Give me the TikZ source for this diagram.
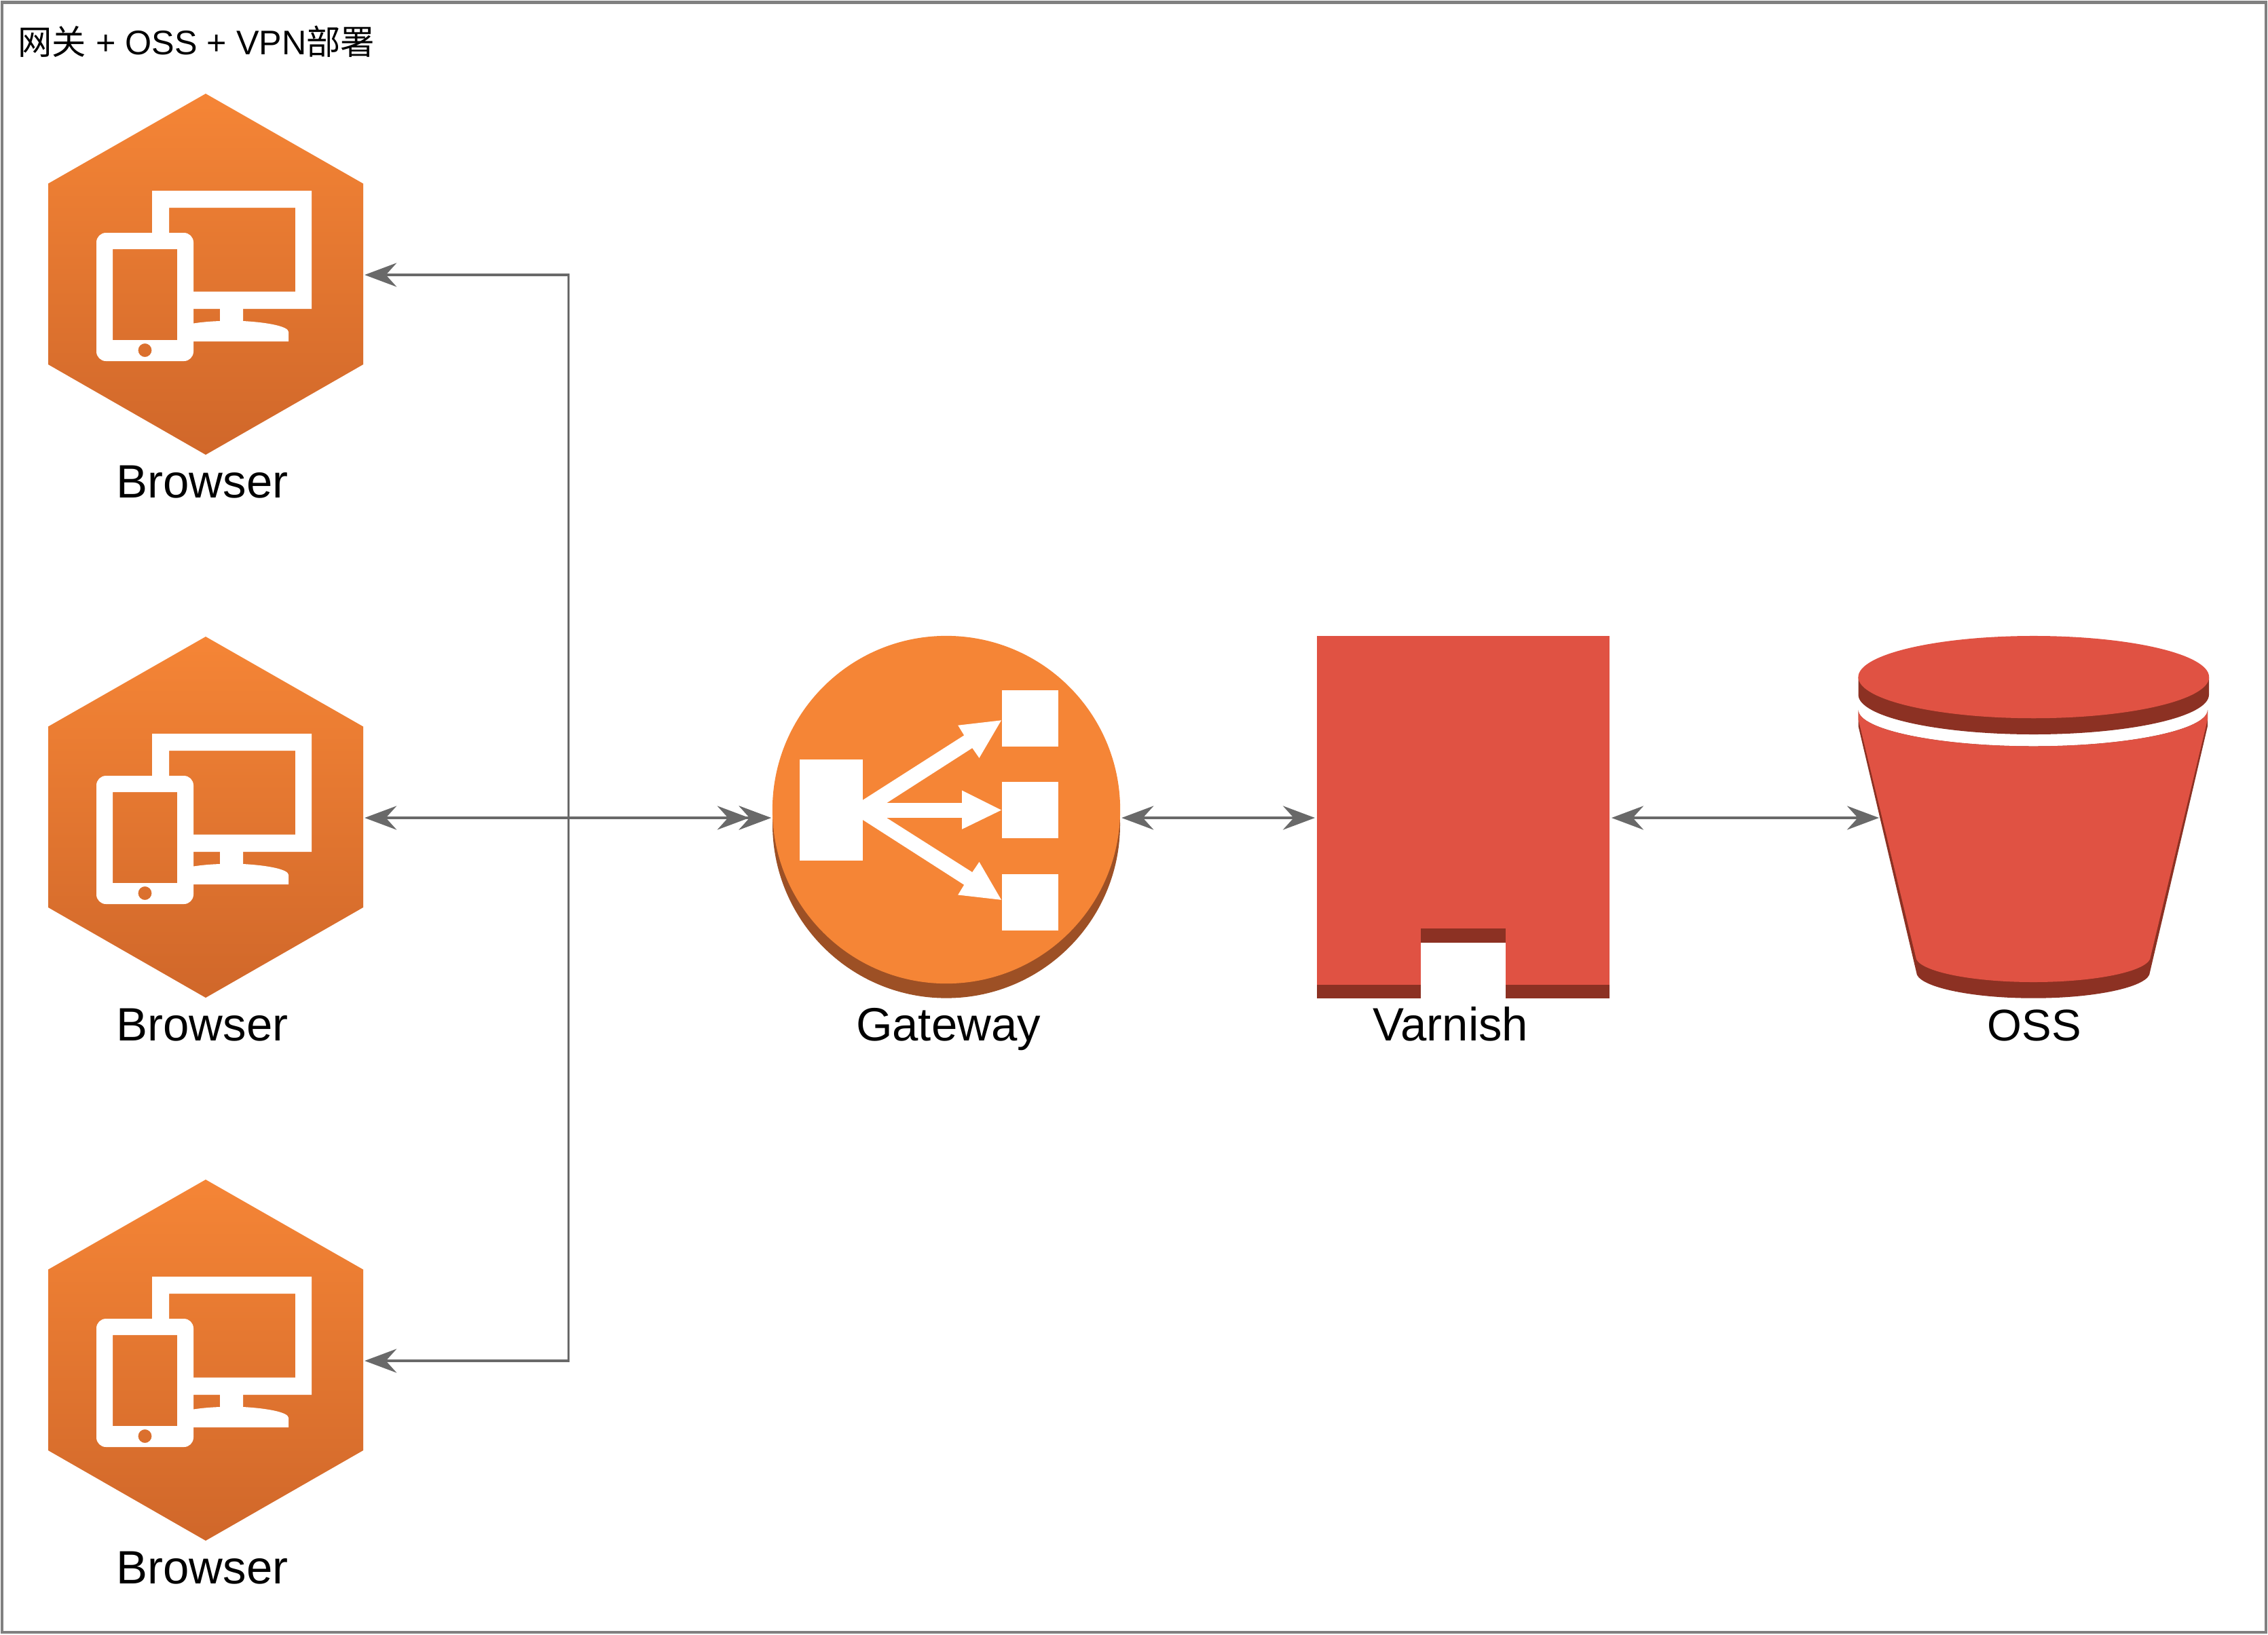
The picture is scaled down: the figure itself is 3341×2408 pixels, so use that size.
\documentclass[tikz,border=0pt]{standalone}
\usepackage{fontspec}
\setmainfont{Liberation Sans}
\newfontfamily\cjk{Noto Sans CJK SC}
\usetikzlibrary{arrows.meta, shapes.geometric}
\definecolor{hexTop}{HTML}{F58536}
\definecolor{hexBottom}{HTML}{D0672A}
\definecolor{awsOrange}{HTML}{F58536}
\definecolor{awsBrown}{HTML}{9D5025}
\definecolor{awsRed}{HTML}{E05243}
\definecolor{awsDark}{HTML}{8C3123}
\definecolor{wire}{HTML}{696969}
\definecolor{framegray}{HTML}{808080}
\tikzset{
    anchorbox/.style={inner sep=0pt, outer sep=0pt, draw=none},
    caption/.style={inner sep=0pt, font=\fontsize{19.6}{22}\selectfont, anchor=base},
    wirelink/.style={draw=wire, line width=0.95pt, {Stealth[length=13.4pt, width=10pt, inset=4.5pt]}-{Stealth[length=13.4pt, width=10pt, inset=4.5pt]}}
}
\begin{document}
\begin{tikzpicture}[x=0.01cm, y=-0.01cm]
        \useasboundingbox (0, 0) rectangle (3341, 2408);
        \node[anchorbox, draw=framegray, line width=1.25pt, minimum width=33.33cm, minimum height=24cm] (frame) at (1670.5, 1204) {};
        \node[inner sep=0pt, anchor=base west, font=\fontsize{14.3}{17}\selectfont] (title) at (26, 80) {{\cjk 网关} + OSS + VPN{\cjk 部署}};

        % browsers
        \foreach \n/\dy in {1/0, 2/800, 3/1600} {
            \begin{scope}[yshift=-\dy*0.01cm]
                \shade[top color=hexTop, bottom color=hexBottom] (303, 138) -- (535, 270.5) -- (535, 537) -- (303, 670) -- (71, 537) -- (71, 270.5) -- cycle;
                \fill[white] (224, 343) -- (224, 281) -- (459, 281) -- (459, 455) -- (285, 455) -- (285, 429.5) -- (435, 429.5) -- (435, 306) -- (249, 306) -- (249, 343) -- cycle;
                \fill[white] (285, 476.5) .. controls (298, 474.5) and (310, 473.5) .. (324, 473) -- (324, 455) -- (358, 455) -- (358, 473) .. controls (395, 475) and (425, 481) .. (425, 489) -- (425, 503) -- (285, 503) -- cycle;
                \fill[white, even odd rule] [rounded corners=4pt] (142, 343) rectangle (285, 532) [sharp corners] (166, 367) rectangle (261, 501) (213.5, 516) circle[radius=10];
                \node[anchorbox, minimum width=4.68cm, minimum height=2.66cm] (b\n) at (303, 405) {};
                \node[caption] (blabel\n) at (298, 733) {Browser};
            \end{scope}
        }

        % gateway
        \fill[awsBrown] (1394, 1214.6) circle[radius=256];
        \node[circle, anchorbox, fill=awsOrange, minimum size=5.12cm, outer sep=0.6pt] (gw) at (1394, 1193) {};
        \fill[white] (1178, 1119) rectangle (1271, 1268);
        \fill[white] (1476, 1017) rectangle (1559, 1100);
        \fill[white] (1476, 1152) rectangle (1559, 1235);
        \fill[white] (1476, 1288) rectangle (1559, 1371);
        \fill[white] (1270.9, 1178.8) -- (1420.2, 1083.4) -- (1411.2, 1068.7) -- (1475, 1061.3) -- (1442.5, 1116.8) -- (1432.3, 1102.1) -- (1306, 1183.2) -- (1417, 1183.2) -- (1417, 1164.5) -- (1475, 1193.6) -- (1417, 1221.8) -- (1417, 1204.9) -- (1306, 1204.9) -- (1432.3, 1285.1) -- (1442.5, 1269.9) -- (1475, 1325.8) -- (1411.2, 1318.5) -- (1420.2, 1303.7) -- (1270.9, 1207.9) -- cycle;
        \node[caption] (gwlabel) at (1397, 1533) {Gateway};

        % varnish
        \fill[awsRed] (1940, 937) rectangle (2371, 1471);
        \fill[awsDark] (1940, 1451) rectangle (2371, 1471);
        \fill[awsDark] (2093, 1368) rectangle (2218, 1389);
        \fill[white] (2093, 1389) rectangle (2218, 1472);
        \node[anchorbox, minimum width=4.31cm, minimum height=5.34cm, outer sep=0.8pt] (varnish) at (2155.5, 1204) {};
        \node[caption] (vlabel) at (2137, 1533) {Varnish};

        % oss
        \fill[awsDark] (2737.5, 1046) -- (2737.5, 1070) -- (2823, 1432.5) .. controls (2823, 1453) and (2900, 1470.7) .. (2995.5, 1470.7) .. controls (3091, 1470.7) and (3167, 1453) .. (3167, 1432.5) -- (3252, 1070) -- (3252, 1046) .. controls (3252, 1075) and (3137, 1099.5) .. (2995.5, 1099.5) .. controls (2854, 1099.5) and (2737.5, 1075) .. (2737.5, 1046) -- cycle;
        \fill[awsRed] (2737.5, 1046) -- (2737.5, 1060) -- (2822, 1409.5) .. controls (2822, 1430) and (2900, 1447) .. (2995.5, 1447) .. controls (3091, 1447) and (3168, 1430) .. (3168, 1409.5) -- (3252, 1060) -- (3252, 1046) .. controls (3252, 1075) and (3137, 1099.5) .. (2995.5, 1099.5) .. controls (2854, 1099.5) and (2737.5, 1075) .. (2737.5, 1046) -- cycle;
        \fill[awsDark] (2737.5, 997.6) -- (2737.5, 1023.6) .. controls (2737.5, 1056) and (2853, 1082) .. (2995.8, 1082) .. controls (3138, 1082) and (3254, 1056) .. (3254, 1023.6) -- (3254, 997.6) -- cycle;
        \node[ellipse, anchorbox, fill=awsRed, minimum width=5.165cm, minimum height=1.212cm] (osslid) at (2995.8, 997.6) {};
        \node[anchorbox, minimum width=5.15cm, minimum height=5.34cm] (oss) at (2995.5, 1204) {};
        \node[caption, font=\fontsize{18.6}{22}\selectfont] (osslabel) at (2997, 1533) {OSS};

        % links
        \coordinate (hub) at (837.5, 1205);
        \coordinate (ossedge) at (2768, 1205);
        \draw[wirelink, shorten >=9.1pt] (b2.east) -- (gw.west |- hub);
        \draw[wirelink] (b1.east) -| (hub) -- (gw.west |- hub);
        \draw[wirelink] (b3.east) -| (hub) -- (gw.west |- hub);
        \draw[wirelink] (gw.east |- hub) -- (varnish.west |- hub);
        \draw[wirelink] (varnish.east |- hub) -- (ossedge);
\end{tikzpicture}
\end{document}
